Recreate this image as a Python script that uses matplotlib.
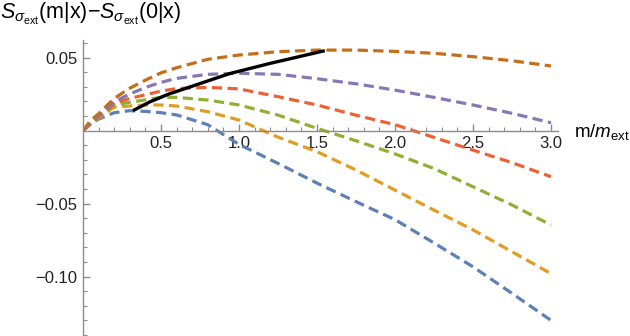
import matplotlib
matplotlib.use("Agg")
import matplotlib.pyplot as plt

plt.rcParams['font.family'] = ['Liberation Sans', 'DejaVu Sans']
plt.rcParams['mathtext.fontset'] = 'custom'
plt.rcParams['mathtext.rm'] = 'Liberation Sans'
plt.rcParams['mathtext.it'] = 'Liberation Sans:italic'

# m/m_ext sample points
m = [0, 0.05, 0.1, 0.2, 0.3, 0.4, 0.5, 0.6, 0.8, 1.0, 1.25, 1.5, 1.75, 2.0, 2.25, 2.5, 2.75, 3.0]

blue = [0, 0.0045, 0.0078, 0.0122, 0.0136, 0.0131, 0.0122, 0.0107, 0.0040, -0.0095,
        -0.0225, -0.0360, -0.0487, -0.0610, -0.0770, -0.0933, -0.1115, -0.1300]
orange = [0, 0.0047, 0.0085, 0.0160, 0.0168, 0.0175, 0.0175, 0.0168, 0.0129, 0.0072,
          -0.0045, -0.0145, -0.0270, -0.0408, -0.0545, -0.0680, -0.0830, -0.0980]
green = [0, 0.0048, 0.0090, 0.0175, 0.0193, 0.0210, 0.0228, 0.0227, 0.0209, 0.0175,
         0.0106, 0.0015, -0.0070, -0.0160, -0.0260, -0.0385, -0.0510, -0.0647]
red = [0, 0.0050, 0.0095, 0.0186, 0.0220, 0.0245, 0.0270, 0.0287, 0.0296, 0.0285,
       0.0232, 0.0175, 0.0105, 0.0040, -0.0047, -0.0134, -0.0220, -0.0316]
purple = [0, 0.0052, 0.0100, 0.0197, 0.0250, 0.0295, 0.0330, 0.0357, 0.0385, 0.0392,
          0.0385, 0.0355, 0.0320, 0.0277, 0.0227, 0.0175, 0.0118, 0.0053]
brown = [0, 0.0070, 0.0115, 0.0220, 0.0290, 0.0345, 0.0395, 0.0430, 0.0488, 0.0517,
         0.0540, 0.0551, 0.0551, 0.0542, 0.0529, 0.0506, 0.0478, 0.0442]

curves = [blue, orange, green, red, purple, brown]
colors = ['#5E81B5', '#E19C24', '#8FB032', '#EB6235', '#8778B3', '#C56E1A']

# line through the maxima
m_peak = [0.32, 0.43, 0.55, 0.69, 0.94, 1.2, 1.55]
s_peak = [0.0136, 0.0197, 0.025, 0.030, 0.039, 0.046, 0.0547]

fig = plt.figure(figsize=(6.3, 3.36), dpi=100)
ax = fig.add_axes([83 / 630, 0, (558 - 83) / 630, 296 / 336])

for ys, c in zip(curves, colors):
    ax.plot(m, ys, color=c, lw=2.3, dashes=(3.2, 1.7), dash_capstyle='butt')
ax.plot(m_peak, s_peak, color='black', lw=2.4, solid_capstyle='butt')

ax.set_xlim(0, (558 - 83) / 156)
ax.set_ylim(-0.1407, 0.062)

for s in ['top', 'right']:
    ax.spines[s].set_visible(False)
ax.spines['left'].set_position(('data', 0))
ax.spines['bottom'].set_position(('data', 0))
for s in ['left', 'bottom']:
    ax.spines[s].set_color('#8c8c8c')
    ax.spines[s].set_linewidth(1.0)

ax.set_xticks([0.5, 1.0, 1.5, 2.0, 2.5, 3.0], labels=['0.5', '1.0', '1.5', '2.0', '2.5', '3.0'])
ax.set_xticks([i / 10 for i in range(1, 31) if i % 5], minor=True)
ax.set_yticks([-0.10, -0.05, 0.05], labels=['\u22120.10', '\u22120.05', '0.05'])
ax.set_yticks([i / 100 for i in range(-14, 7) if i % 5], minor=True)

ax.tick_params(which='both', direction='in', color='#8c8c8c', labelsize=12,
               labelcolor='#222222')
ax.tick_params(which='major', length=5, width=1)
ax.tick_params(which='minor', length=3, width=0.8)
ax.tick_params(axis='x', pad=4)
ax.tick_params(axis='y', pad=4)

fig.text(0.0, 1 - 14 / 336,
         r'$S_{\sigma_{\mathrm{ext}}}$(m|x)$-$$S_{\sigma_{\mathrm{ext}}}$(0|x)',
         fontsize=15.5, va='center', ha='left')
fig.text(574 / 630, 1 - 132 / 336, r'm/$m_{\mathrm{ext}}$', fontsize=13.5,
         va='center', ha='left')

fig.savefig('out.png', dpi=100)
